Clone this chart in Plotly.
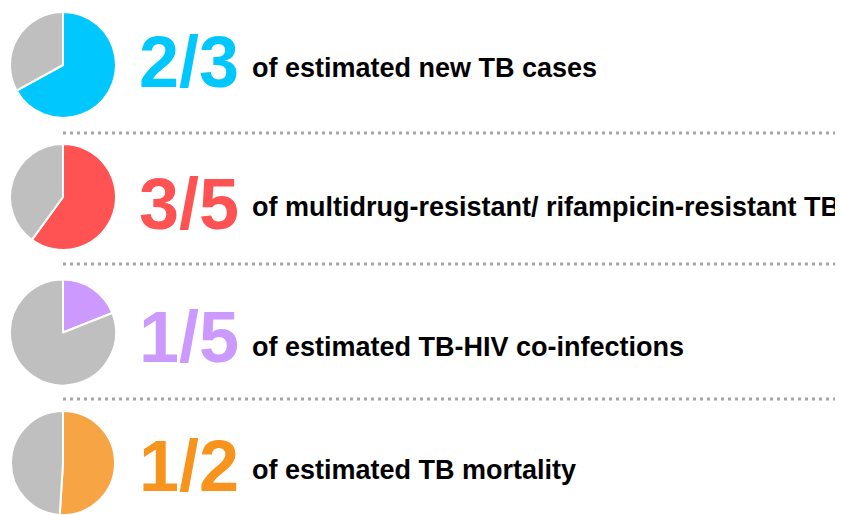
import plotly.graph_objects as go

# Page body has an 8px margin; the figure is sized to fill the visible window.
OFF = 8
W, H = 843 - OFF, 515 - OFF

# Data
fractions = ["2/3", "3/5", "1/5", "1/2"]
descriptions = [
    "of estimated new TB cases",
    "of multidrug-resistant/ rifampicin-resistant TB",
    "of estimated TB-HIV co-infections",
    "of estimated TB mortality",
]
share_values = [67, 60, 19, 51]
rest_values = [33, 40, 81, 49]
pie_colors = ["#00C8FF", "#FF5252", "#CC99FF", "#F7A444"]
text_colors = ["#00C8FF", "#FF5252", "#CC99FF", "#F7941D"]
gray = "#BFBFBF"

# Layout (pixel positions in the window)
pie_boxes = [(12, 118), (144, 250), (279, 386), (411, 515)]  # top, bottom
pie_x = (10, 116)
num_y = [62, 204, 337, 466]
desc_y = [68, 207, 347, 470]
sep_y = [133, 264, 399]

def px(x):
    return (x - OFF) / W

def py(y):
    return 1 - (y - OFF) / H

fig = go.Figure()
for i in range(4):
    top, bot = pie_boxes[i]
    fig.add_trace(go.Pie(
        values=[share_values[i], rest_values[i]],
        labels=["share", "rest"],
        marker=dict(colors=[pie_colors[i], gray], line=dict(color="white", width=2)),
        sort=False, direction="clockwise", rotation=0,
        textinfo="none", hoverinfo="skip", showlegend=False,
        domain=dict(x=[px(pie_x[0]), px(pie_x[1])], y=[max(0, py(bot)), min(1, py(top))]),
    ))
    fig.add_annotation(
        x=px(137), y=py(num_y[i]), xref="paper", yref="paper",
        xanchor="left", yanchor="middle", showarrow=False,
        text=f"<b>{fractions[i]}</b>",
        font=dict(family="Liberation Sans, Arial, sans-serif", size=72, color=text_colors[i]),
    )
    fig.add_annotation(
        x=px(250), y=py(desc_y[i]), xref="paper", yref="paper",
        xanchor="left", yanchor="middle", showarrow=False,
        text=f"<b>{descriptions[i]}</b>",
        font=dict(family="Liberation Sans, Arial, sans-serif", size=27, color="black"),
    )

for y in sep_y:
    fig.add_shape(type="line", xref="paper", yref="paper",
                  x0=px(63), x1=px(839), y0=py(y), y1=py(y),
                  line=dict(color="#A6A6A6", width=3, dash="3px,4px"))

fig.update_layout(
    width=W, height=H,
    margin=dict(l=0, r=0, t=0, b=0),
    paper_bgcolor="white", plot_bgcolor="white",
)
fig.write_html("out.html")
